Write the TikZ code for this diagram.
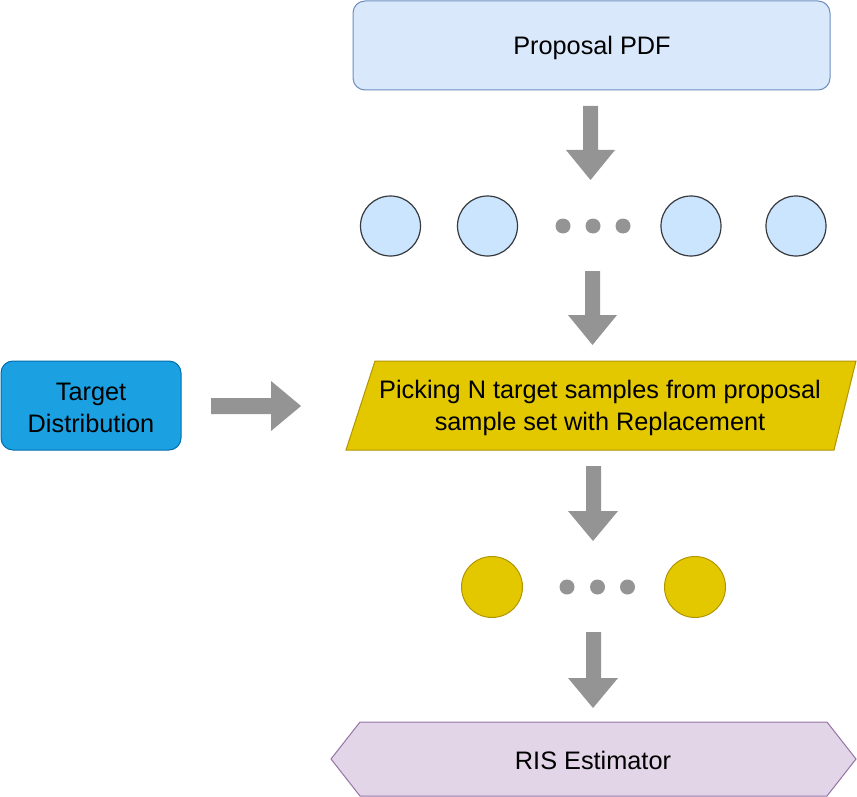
\documentclass[tikz,border=0pt]{standalone}
\usepackage{fontspec}
\setmainfont{Liberation Sans}
\begin{document}
\begin{tikzpicture}[x=1pt,y=-1pt,
  txt/.style={font=\fontsize{25.3}{32}\selectfont, align=center, text=black},
  blockarrow/.style={fill=arrowgray, draw=none},
  bluecirc/.style={circle, draw=circstroke, fill=circfill, line width=1.2pt, minimum size=60pt, inner sep=0pt},
  yelcirc/.style={circle, draw=yelstroke, fill=yelfill, line width=1pt, minimum size=61pt, inner sep=0pt},
  dotc/.style={circle, fill=arrowgray, minimum size=15pt, inner sep=0pt}]
\definecolor{arrowgray}{HTML}{949494}
\definecolor{propfill}{HTML}{DAE8FC}
\definecolor{propstroke}{HTML}{6C8EBF}
\definecolor{circfill}{HTML}{CCE5FF}
\definecolor{circstroke}{HTML}{36393D}
\definecolor{yelfill}{HTML}{E3C800}
\definecolor{yelstroke}{HTML}{B09500}
\definecolor{tgtfill}{HTML}{1BA1E2}
\definecolor{tgtstroke}{HTML}{006EAF}
\definecolor{risfill}{HTML}{E1D5E7}
\definecolor{risstroke}{HTML}{9673A6}
\useasboundingbox (0,0) rectangle (857,797);

% Proposal PDF
\draw[fill=propfill, draw=propstroke, line width=1pt, rounded corners=12pt] (353,1) rectangle (830,90);
\node[txt] (prop) at (592,47.5) {Proposal PDF};

% arrow 1
\fill[blockarrow] (583,106) -- (598,106) -- (598,150) -- (615,150) -- (590.5,180) -- (566,150) -- (583,150) -- cycle;

% blue circles
\node[bluecirc] (c1) at (390.5,226) {};
\node[bluecirc] (c2) at (487.5,226) {};
\node[dotc] (d1) at (563,226) {};
\node[dotc] (d2) at (593,226) {};
\node[dotc] (d3) at (623,226) {};
\node[bluecirc] (c3) at (691,226) {};
\node[bluecirc] (c4) at (796,226) {};

% arrow 2
\fill[blockarrow] (585,271) -- (600,271) -- (600,315) -- (617,315) -- (592.5,345) -- (568,315) -- (585,315) -- cycle;

% Target Distribution
\draw[fill=tgtfill, draw=tgtstroke, line width=1pt, rounded corners=12pt] (1,361) rectangle (181,450);
\node[txt] (tgt) at (91,408) {Target\\Distribution};

% horizontal arrow
\fill[blockarrow] (211,398) -- (271,398) -- (271,381) -- (301,406) -- (271,431) -- (271,414) -- (211,414) -- cycle;

% parallelogram
\draw[fill=yelfill, draw=yelstroke, line width=1pt] (375,361) -- (856,361) -- (834,450) -- (346,450) -- cycle;
\node[txt] (pick) at (600,408) {Picking N target samples from proposal\\sample set with Replacement};

% arrow 3
\fill[blockarrow] (586,466) -- (601,466) -- (601,511) -- (618,511) -- (593,541) -- (568,511) -- (586,511) -- cycle;

% yellow circles
\node[yelcirc] (y1) at (492,587) {};
\node[dotc] (e1) at (567,587) {};
\node[dotc] (e2) at (597.5,587) {};
\node[dotc] (e3) at (627.5,587) {};
\node[yelcirc] (y2) at (695,587) {};

% arrow 4
\fill[blockarrow] (586,632) -- (601,632) -- (601,678) -- (618,678) -- (593,708) -- (568,678) -- (586,678) -- cycle;

% RIS Estimator hexagon
\draw[fill=risfill, draw=risstroke, line width=1pt] (331,759) -- (360,722) -- (827,722) -- (856,759) -- (827,796) -- (360,796) -- cycle;
\node[txt] (ris) at (593,760.5) {RIS Estimator};
\end{tikzpicture}
\end{document}
